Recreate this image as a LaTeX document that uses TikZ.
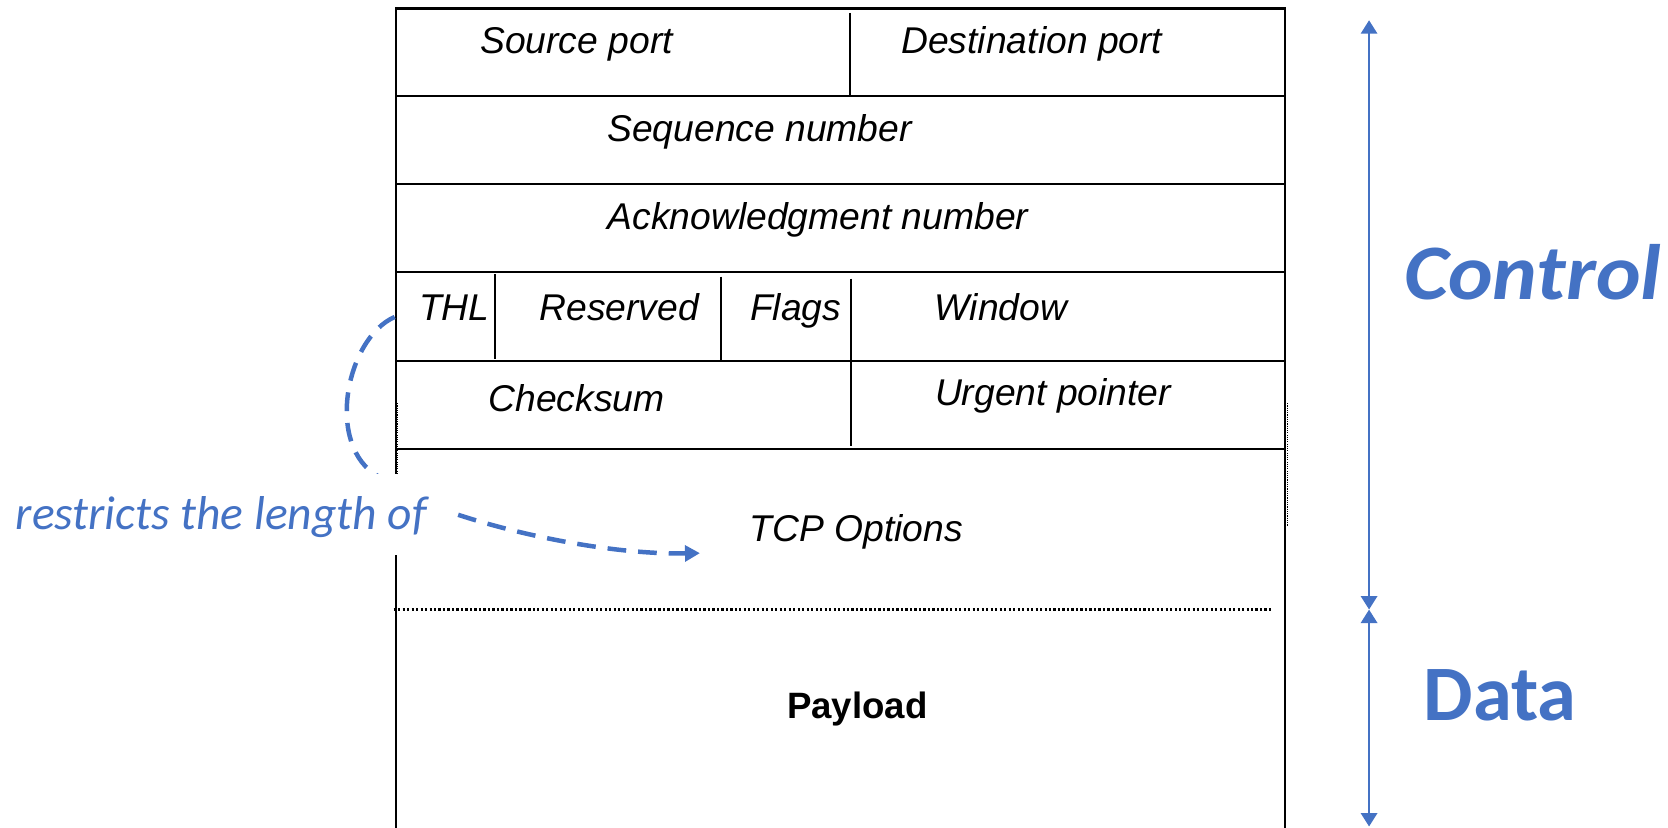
\documentclass[tikz,border=0pt]{standalone}
\usepackage{fontspec}
\setmainfont{Liberation Sans}
\newfontfamily\calib{Carlito}
\usetikzlibrary{arrows.meta}
\definecolor{ublue}{HTML}{4472C4}
\begin{document}
\begin{tikzpicture}[x=0.01cm,y=-0.01cm,
  boxline/.style={line width=0.6pt, black},
  divline/.style={line width=0.5pt, black},
  field/.style={font=\fontsize{9.96}{12}\selectfont\itshape, anchor=base, inner sep=0pt},
  boldfield/.style={font=\fontsize{9.8}{12}\selectfont\bfseries, anchor=base, inner sep=0pt},
  bluebig/.style={font=\calib\fontsize{21}{25}\selectfont\bfseries, text=ublue, anchor=base, inner sep=0pt},
  spanarrow/.style={ublue, line width=0.75pt, {Triangle[length=3.6pt,width=4.3pt]}-{Triangle[length=3.6pt,width=4.3pt]}},
  hint/.style={ublue, line width=1.2pt, dash pattern=on 5pt off 3.2pt, -{Triangle[length=4pt,width=4.2pt]}},
  hintlabel/.style={font=\calib\fontsize{12.7}{15}\selectfont\itshape, text=ublue, fill=white, inner xsep=6pt, inner ysep=0pt, text height=14.8pt, text depth=6.8pt, anchor=base}
]
\useasboundingbox (0,0) rectangle (1568,778);

% frame and rows
\draw[boxline] (372,778) -- (372,8) -- (1208,8) -- (1208,778);
\foreach \yy in {90,173,256,339,422}
  \draw[boxline] (372,\yy) -- (1208,\yy);
% dividers
\draw[divline] (799,12) -- (799,90);
\draw[divline] (465,258) -- (465,337);
\draw[divline] (678,260) -- (678,338);
\draw[divline] (800,262) -- (800,339);
\draw[divline] (800,339) -- (800,419);
% faint dotted outline remnants
\draw[line width=0.3pt, dash pattern=on 0.3pt off 0.3pt] (374,379) -- (374,448);
\draw[line width=0.3pt, dash pattern=on 0.3pt off 0.3pt] (1210,379) -- (1210,495);
% header / payload separator
\draw[line width=0.6pt, dash pattern=on 0.6pt off 0.6pt] (370,573) -- (1195,573);

% field texts
\node[field] (src) at (542,50) {Source port};
\node[field] (dst) at (970,50) {Destination port};
\node[field] (seq) at (714,133) {Sequence number};
\node[field] (ack) at (769,216) {Acknowledgment number};
\node[field] (thl) at (427,301) {THL};
\node[field] (res) at (582,301) {Reserved};
\node[field] (flg) at (748,301) {Flags};
\node[field] (win) at (941,301) {Window};
\node[field] (chk) at (542,387) {Checksum};
\node[field] (urg) at (990,381) {Urgent pointer};
\node[field] (opt) at (805,509) {TCP Options};
\node[boldfield] (pay) at (806,675) {Payload};

% dashed hint arrow
\coordinate (cstart) at (371,298);
\coordinate (ctip) at (658,520);
\draw[hint] (cstart) .. controls (325,318) and (305,420) .. (356,448)
  .. controls (385,478) and (540,522) .. (ctip);
\node[hintlabel] (lbl) at (208,498) {restricts the length of};

% span arrows
\coordinate (atop) at (1287,19);
\coordinate (amid) at (1287,573);
\coordinate (abot) at (1287,777);
\draw[spanarrow] (atop) -- (amid);
\draw[spanarrow] (amid) -- (abot);

\node[bluebig, font=\calib\fontsize{21}{25}\selectfont\bfseries\itshape, xscale=1.08] (ctl) at (1441,282) {Control};
\node[bluebig] (dat) at (1410,677) {Data};
\end{tikzpicture}
\end{document}
